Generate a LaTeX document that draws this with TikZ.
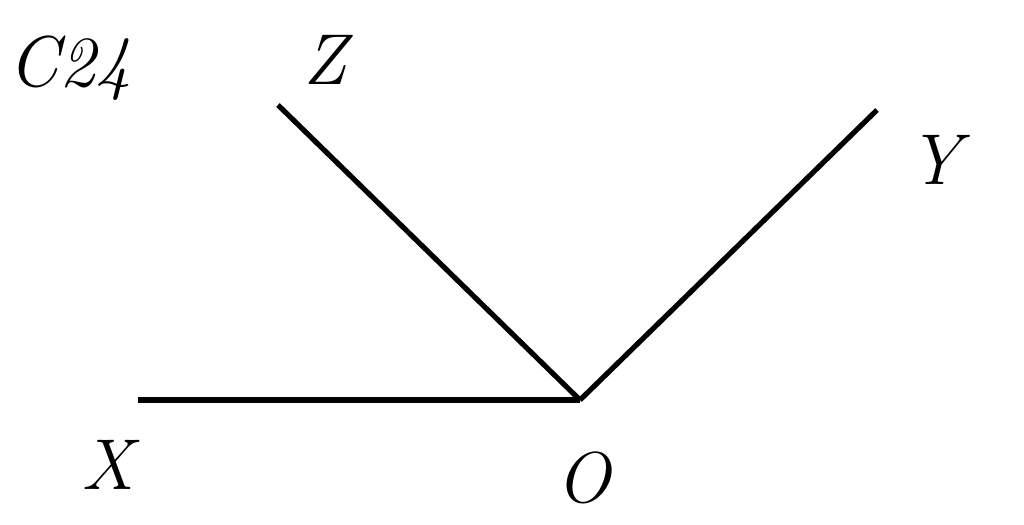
\documentclass[tikz,border=0pt]{standalone}
\usepackage{tikz}

\begin{document}
\begin{tikzpicture}[x=0.5pt,y=-0.5pt]
\useasboundingbox (0,0) rectangle (1024,525);
\begin{scope}[every node/.style={font=\fontsize{36}{40}\selectfont\itshape}]
\coordinate (o) at (580,400);
\coordinate (x) at (138,400);
\coordinate (z) at (278,105);
\coordinate (y) at (877,110);

\node (c24) at (70,68) {C24};
\node (lz) at (325,60) {Z};
\node (ly) at (935,160) {Y};
\node (lx) at (108,465) {X};
\node (lo) at (583,478) {O};

\draw[line width=2.6pt, black] (x) -- (o);
\draw[line width=2.6pt, black] (z) -- (o);
\draw[line width=2.6pt, black] (y) -- (o);
\end{scope}
\end{tikzpicture}
\end{document}
